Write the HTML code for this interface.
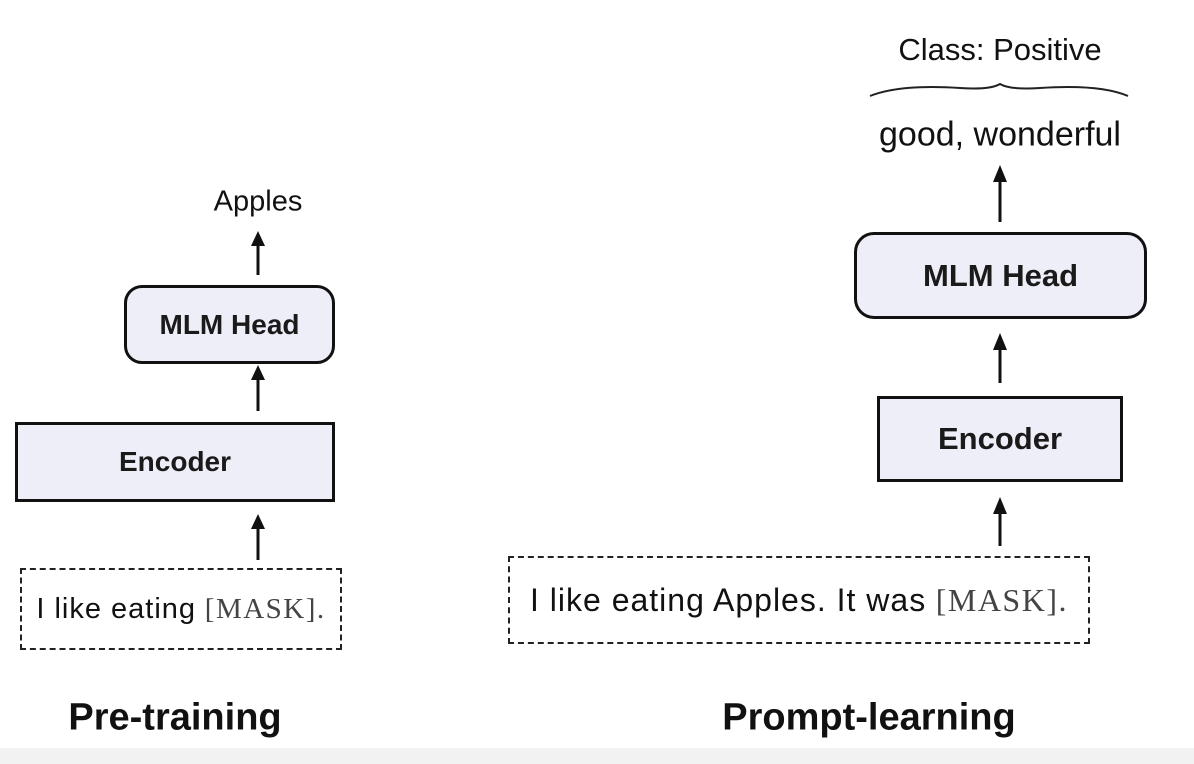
<!DOCTYPE html>
<html><head><style>
body{margin:0;width:1194px;height:764px;background:#fff;overflow:hidden;position:relative;font-family:"Liberation Sans",sans-serif;color:#111}
.t{position:absolute;white-space:nowrap;transform:translate(-50%,-50%)}
.box{position:absolute;box-sizing:border-box;background:#eeeef8;border:3px solid #111;display:flex;align-items:center;justify-content:center;font-size:28px;font-weight:bold;color:#1a1a1a}
.dash{position:absolute;box-sizing:border-box;border:2.5px dashed #222;display:flex;align-items:center;justify-content:center;white-space:nowrap}
.m{font-family:"Liberation Serif",serif;color:#444;letter-spacing:1.5px}
.b{font-weight:bold;font-size:38px}
</style></head><body>
<div class="t" style="left:258px;top:202px;font-size:29px">Apples</div>
<div class="box" style="left:124px;top:285px;width:211px;height:79px;border-radius:18px">MLM Head</div>
<div class="box" style="left:15px;top:422px;width:320px;height:80px">Encoder</div>
<div class="dash" style="left:20px;top:568px;width:322px;height:82px;font-size:29px;letter-spacing:1px">I like eating <span class="m">&nbsp;[MASK].</span></div>

<div class="t" style="left:1000px;top:50px;font-size:31px">Class: Positive</div>
<div class="t" style="left:1000px;top:135px;font-size:34px">good, wonderful</div>
<div class="box" style="left:854px;top:232px;width:293px;height:87px;border-radius:20px;font-size:31px">MLM Head</div>
<div class="box" style="left:877px;top:396px;width:246px;height:86px;font-size:31px">Encoder</div>
<div class="dash" style="left:508px;top:556px;width:582px;height:88px;font-size:32px;letter-spacing:1px">I like eating Apples. It was <span class="m">&nbsp;[MASK].</span></div>

<div class="t b" style="left:175px;top:718px">Pre-training</div>
<div class="t b" style="left:869px;top:718px">Prompt-learning</div>
<div style="position:absolute;left:0;top:748px;width:1194px;height:16px;background:#f2f2f2"></div>

<svg width="1194" height="764" style="position:absolute;left:0;top:0">
<g stroke="#111" stroke-width="3" fill="#111">
<line x1="258" y1="275" x2="258" y2="244"/><polygon points="251,246 265,246 258,231" stroke="none"/>
<line x1="258" y1="411" x2="258" y2="378"/><polygon points="251,380 265,380 258,365" stroke="none"/>
<line x1="258" y1="560" x2="258" y2="527"/><polygon points="251,529 265,529 258,514" stroke="none"/>
<line x1="1000" y1="222" x2="1000" y2="180"/><polygon points="993,182 1007,182 1000,165" stroke="none"/>
<line x1="1000" y1="383" x2="1000" y2="348"/><polygon points="993,350 1007,350 1000,333" stroke="none"/>
<line x1="1000" y1="546" x2="1000" y2="512"/><polygon points="993,514 1007,514 1000,497" stroke="none"/>
</g>
<path d="M870,96 Q900,84 960,88 Q990,90 1000,84 Q1010,90 1040,88 Q1100,84 1128,96" fill="none" stroke="#222" stroke-width="2"/>
</svg>
</body></html>
